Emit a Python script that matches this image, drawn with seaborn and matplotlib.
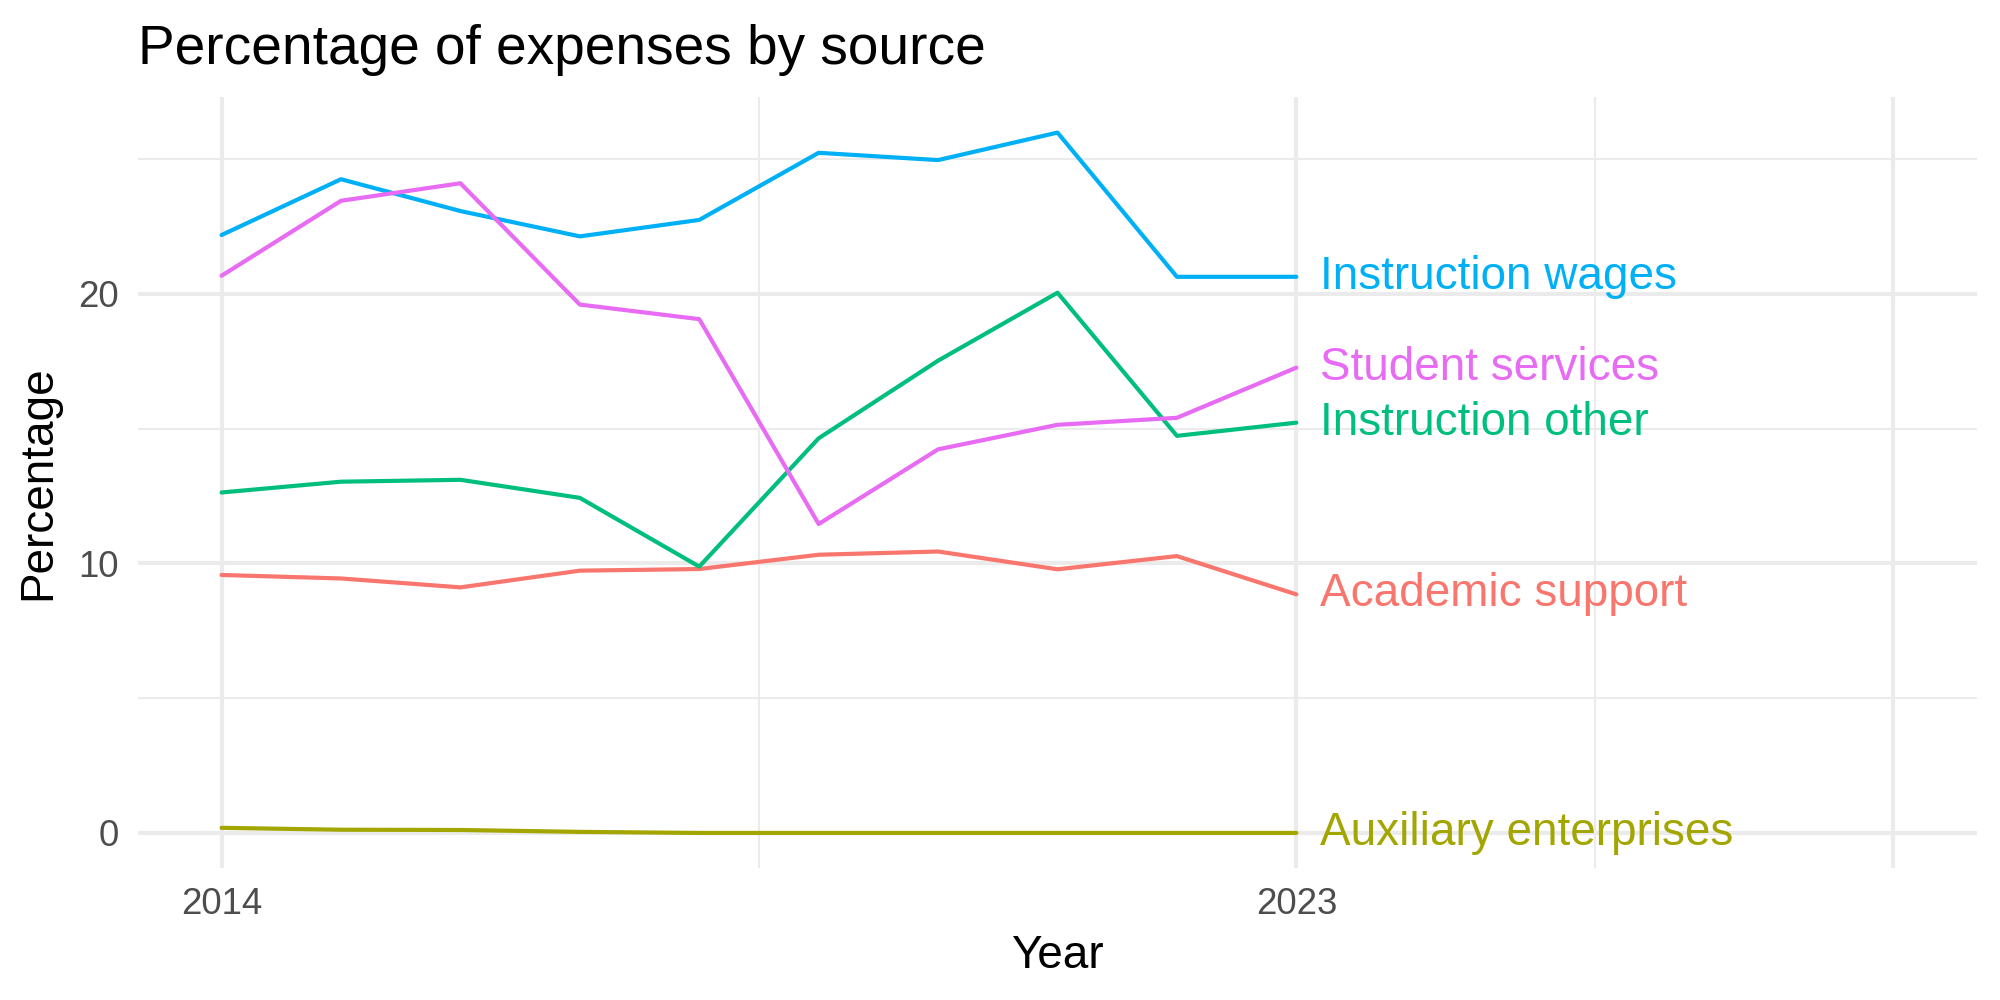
import pandas as pd
import matplotlib.pyplot as plt
import seaborn as sns

# Dane
years = [2014, 2015, 2016, 2017, 2018, 2019, 2020, 2021, 2022, 2023]
academic_support = [9.57, 9.44, 9.11, 9.73, 9.79, 10.32, 10.44, 9.78, 10.27, 8.85]
auxiliary_enterprises = [0.19, 0.12, 0.11, 0.04, 0.0, 0.0, 0.0, 0.0, 0.0, 0.0]
instruction_other = [12.63, 13.03, 13.10, 12.43, 9.88, 14.64, 17.52, 20.04, 14.73, 15.22]
instruction_wages = [22.18, 24.25, 23.07, 22.13, 22.74, 25.23, 24.96, 25.98, 20.63, 20.63]
student_services = [20.67, 23.45, 24.10, 19.60, 19.06, 11.46, 14.23, 15.14, 15.40, 17.26]

sources = ["Academic support", "Auxiliary enterprises", "Instruction other",
           "Instruction wages", "Student services"]
colors = ["#F8766D", "#A3A500", "#00BF7D", "#00B0F6", "#E76BF3"]

series = [academic_support, auxiliary_enterprises, instruction_other,
          instruction_wages, student_services]
data = pd.concat(
    [pd.DataFrame({"Year": years, "Percentage": vals, "source": name})
     for name, vals in zip(sources, series)],
    ignore_index=True,
)

sns.set_theme(style="white")
plt.rcParams["font.family"] = ["Liberation Sans", "DejaVu Sans"]

fig, ax = plt.subplots(figsize=(10, 5), dpi=200)
fig.subplots_adjust(left=0.069, right=0.9885, top=0.903, bottom=0.132)

# siatka w stylu theme_minimal
for x in [2014, 2023, 2028]:
    ax.axvline(x, color="#EBEBEB", lw=1.5, zorder=0)
for x in [2018.5, 2025.5]:
    ax.axvline(x, color="#EBEBEB", lw=0.75, zorder=0)
for y in [0, 10, 20]:
    ax.axhline(y, color="#EBEBEB", lw=1.5, zorder=0)
for y in [5, 15, 25]:
    ax.axhline(y, color="#EBEBEB", lw=0.75, zorder=0)

sns.lineplot(data=data, x="Year", y="Percentage", hue="source",
             hue_order=sources, palette=colors, lw=1.5, legend=False, ax=ax)

# etykiety na końcu linii
last = data[data["Year"] == years[-1]]
for name, color in zip(sources, colors):
    val = last.loc[last["source"] == name, "Percentage"].iloc[0]
    ax.text(years[-1] + 0.2, val, name, color=color, fontsize=16.5,
            ha="left", va="center")

ax.set_xlim(2013.3, 2028.7)
ax.set_ylim(-1.3, 27.3)
ax.set_xticks([2014, 2023])
ax.set_yticks([0, 10, 20])
ax.tick_params(axis="both", length=0, labelsize=13.2, labelcolor="#4D4D4D", pad=7)
for s in ax.spines.values():
    s.set_visible(False)

ax.set_xlabel("Year", fontsize=16.5, color="black", labelpad=4)
ax.set_ylabel("Percentage", fontsize=16.5, color="black", labelpad=6.5)
ax.set_title("Percentage of expenses by source", loc="left", fontsize=19.8,
             color="black", pad=12)

plt.savefig("out.png", dpi=200)
plt.close()
